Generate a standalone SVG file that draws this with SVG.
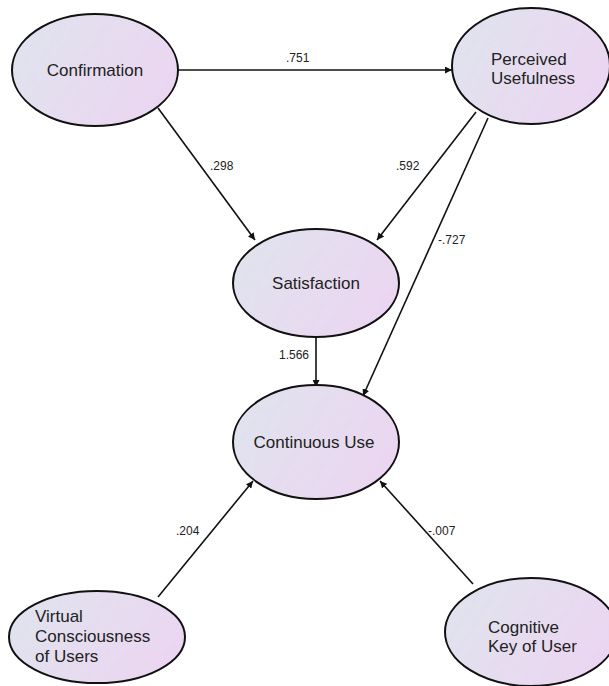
<svg xmlns="http://www.w3.org/2000/svg" width="609" height="686" viewBox="0 0 609 686">
<style>
.node{fill:url(#g);stroke:#111;stroke-width:2}
.t{font-family:"Liberation Sans",Arial,sans-serif;font-size:17px;fill:#222}
.c{text-anchor:middle}
.lb{font-family:"Liberation Sans",Arial,sans-serif;font-size:12px;fill:#222}
.e{stroke:#111;stroke-width:1.6;fill:none;marker-end:url(#a)}
</style>
<defs>
<linearGradient id="g" x1="0" y1="0.3" x2="1" y2="0.7">
<stop offset="0" stop-color="#e0e3ee"/>
<stop offset="1" stop-color="#ecd5f1"/>
</linearGradient>
<marker id="a" viewBox="0 0 10 10" refX="10" refY="5" markerWidth="7" markerHeight="7" markerUnits="userSpaceOnUse" orient="auto">
<path d="M0,0 L10,5 L0,10 z" fill="#111"/>
</marker>
</defs>
<rect width="609" height="686" fill="#fff"/>
<g id="connectors">
<line class="e" x1="178" y1="70" x2="452" y2="70"/>
<line class="e" x1="158" y1="108" x2="255" y2="240"/>
<line class="e" x1="476" y1="112" x2="377" y2="240"/>
<line class="e" x1="488" y1="118" x2="363" y2="396"/>
<line class="e" x1="316" y1="337" x2="316" y2="387"/>
<line class="e" x1="158" y1="597" x2="253" y2="481"/>
<line class="e" x1="473" y1="584" x2="380" y2="481"/>
<text class="lb" x="286" y="62">.751</text>
<text class="lb" x="210" y="170">.298</text>
<text class="lb" x="396" y="170">.592</text>
<text class="lb" x="438" y="244">-.727</text>
<text class="lb" x="279" y="359">1.566</text>
<text class="lb" x="176" y="535">.204</text>
<text class="lb" x="428" y="535">-.007</text>
</g>
<g id="confirmation">
<ellipse class="node" cx="95" cy="70" rx="83" ry="56"/>
<text class="t c" x="95" y="76">Confirmation</text>
</g>
<g id="perceived-usefulness">
<ellipse class="node" cx="531" cy="66" rx="79" ry="58"/>
<text class="t" x="491" y="65">Perceived</text>
<text class="t" x="491" y="84">Usefulness</text>
</g>
<g id="satisfaction">
<ellipse class="node" cx="316" cy="283" rx="83" ry="54"/>
<text class="t c" x="316" y="289">Satisfaction</text>
</g>
<g id="continuous-use">
<ellipse class="node" cx="316" cy="442" rx="83" ry="57"/>
<text class="t c" x="314" y="448">Continuous Use</text>
</g>
<g id="virtual-consciousness">
<ellipse class="node" cx="97" cy="637" rx="88" ry="46"/>
<text class="t" x="35" y="622">Virtual</text>
<text class="t" x="35" y="642">Consciousness</text>
<text class="t" x="35" y="662">of Users</text>
</g>
<g id="cognitive-key">
<ellipse class="node" cx="531" cy="632" rx="86" ry="54"/>
<text class="t" x="488" y="633">Cognitive</text>
<text class="t" x="488" y="652">Key of User</text>
</g>
</svg>
